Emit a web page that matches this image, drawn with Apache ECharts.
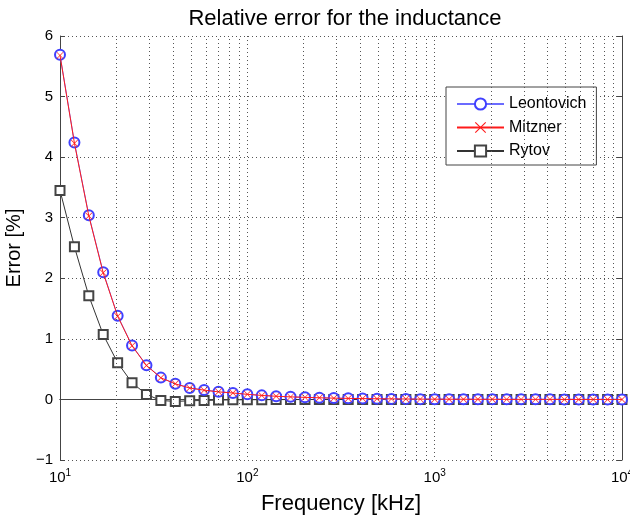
<!DOCTYPE html>
<html>
<head>
<meta charset="utf-8">
<script src="https://cdn.jsdelivr.net/npm/echarts@6/dist/echarts.min.js"></script>
<style>
  html, body { margin: 0; padding: 0; background: #fff; }
  #chart { width: 630px; height: 516px; }
</style>
</head>
<body>
<div id="chart"></div>
<script>
// frequencies [kHz], 13 points per decade
const freq = [10, 11.94, 14.25, 17.01, 20.31, 24.24, 28.94, 34.55, 41.25, 49.24,
  58.78, 70.17, 83.77, 100, 119.4, 142.5, 170.1, 203.1, 242.4, 289.4,
  345.5, 412.5, 492.4, 587.8, 701.7, 837.7, 1000, 1194, 1425, 1701,
  2031, 2424, 2894, 3455, 4125, 4924, 5878, 7017, 8377, 10000]

const leontovich = [5.69, 4.24, 3.04, 2.10, 1.38, 0.89, 0.565, 0.36, 0.26, 0.19,
  0.155, 0.127, 0.108, 0.085, 0.067, 0.053, 0.043, 0.035, 0.028, 0.022,
  0.018, 0.014, 0.011, 0.009, 0.007, 0.005, 0.004, 0.003, 0.003, 0.002,
  0.002, 0.001, 0.001, 0.001, 0.001, 0, 0, 0, 0, 0]

const mitzner = [5.68, 4.23, 3.03, 2.09, 1.375, 0.885, 0.56, 0.357, 0.257, 0.188,
  0.153, 0.125, 0.106, 0.084, 0.066, 0.052, 0.042, 0.034, 0.027, 0.021,
  0.017, 0.014, 0.011, 0.009, 0.007, 0.005, 0.004, 0.003, 0.003, 0.002,
  0.002, 0.001, 0.001, 0.001, 0.001, 0, 0, 0, 0, 0]

const rytov = [3.45, 2.52, 1.71, 1.07, 0.605, 0.275, 0.083, -0.017, -0.033, -0.022,
  -0.017, -0.011, -0.007, -0.005, -0.004, -0.003, -0.002, -0.002, -0.001, -0.001,
  -0.001, 0, 0, 0, 0, 0, 0, 0, 0, 0,
  0, 0, 0, 0, 0, 0, 0, 0, 0, 0]

const decades = [10, 100, 1000]

const axisColor = '#444'
const gridDots = { type: [1, 3], color: '#555', width: 1 }
const font = 'Liberation Sans, Arial, sans-serif'

// minor grid lines at 2..9 of each decade
const minorLines = []
decades.forEach((d) => {
  for (let m = 2; m <= 9; m++) minorLines.push({ xAxis: d * m })
})

const pairs = (ys) => freq.map((f, i) => [f, ys[i]])

const xSym = 'path://M0,0.7L0.7,0L5,4.3L9.3,0L10,0.7L5.7,5L10,9.3L9.3,10L5,5.7L0.7,10L0,9.3L4.3,5Z'

const chart = echarts.init(document.getElementById('chart'))

chart.setOption({
  animation: false,
  textStyle: { fontFamily: font },
  title: {
    text: 'Relative error for the inductance',
    left: 340,
    textAlign: 'center',
    top: 3,
    textStyle: { fontSize: 22, fontWeight: 'normal', color: '#000', fontFamily: font }
  },
  legend: {
    orient: 'vertical',
    left: 446,
    top: 87,
    padding: [9, 10, 6, 10],
    itemWidth: 47,
    itemHeight: 14,
    itemGap: 7.5,
    backgroundColor: '#fff',
    borderColor: axisColor,
    borderWidth: 1,
    borderRadius: 0,
    textStyle: { fontSize: 16, color: '#000', fontFamily: font },
    data: ['Leontovich', 'Mitzner', 'Rytov']
  },
  grid: { left: 60, right: 8, top: 36, bottom: 56, outerBoundsMode: 'none' },
  xAxis: [
    {
      type: 'log',
      logBase: 10,
      min: 10,
      max: 10000,
      splitNumber: 3,
      name: 'Frequency [kHz]',
      nameLocation: 'middle',
      nameGap: 33,
      nameTextStyle: { fontSize: 22, color: '#000', fontFamily: font },
      axisLine: { show: true, lineStyle: { color: axisColor } },
      axisTick: { inside: true, length: 5, lineStyle: { color: axisColor } },
      splitLine: { show: true, lineStyle: gridDots },
      minorTick: { show: false },
      axisLabel: {
        margin: 8,
        color: '#000',
        formatter: (v) => '{b|10}{s|' + Math.round(Math.log10(v)) + '}',
        rich: {
          b: { fontSize: 15, color: '#000', fontFamily: font },
          s: { fontSize: 10, color: '#000', fontFamily: font, padding: [0, 0, 9, 0] }
        }
      }
    },
    {
      type: 'log',
      logBase: 10,
      min: 10,
      max: 10000,
      splitNumber: 3,
      position: 'top',
      axisLine: { show: true, lineStyle: { color: axisColor } },
      axisTick: { inside: true, length: 5, lineStyle: { color: axisColor } },
      axisLabel: { show: false },
      splitLine: { show: false }
    }
  ],
  yAxis: [
    {
      type: 'value',
      min: -1,
      max: 6,
      interval: 1,
      name: 'Error [%]',
      nameLocation: 'middle',
      nameGap: 36,
      nameTextStyle: { fontSize: 20, color: '#000', fontFamily: font },
      axisLine: { show: true, lineStyle: { color: axisColor } },
      axisTick: { inside: true, length: 5, lineStyle: { color: axisColor } },
      splitLine: { show: true, lineStyle: gridDots },
      axisLabel: {
        margin: 7,
        fontSize: 15,
        color: '#000',
        formatter: (v) => (v < 0 ? '\u2212' + -v : String(v))
      }
    },
    {
      type: 'value',
      min: -1,
      max: 6,
      interval: 1,
      position: 'right',
      axisLine: { show: true, lineStyle: { color: axisColor } },
      axisTick: { inside: true, length: 5, lineStyle: { color: axisColor } },
      axisLabel: { show: false },
      splitLine: { show: false }
    }
  ],
  series: [
    {
      name: 'Leontovich',
      type: 'line',
      data: pairs(leontovich),
      symbol: 'emptyCircle',
      symbolSize: 10,
      color: '#3333ff',
      lineStyle: { width: 1, color: '#6b6bff' },
      itemStyle: { color: '#4040ff', borderWidth: 1 },
      markLine: {
        silent: true,
        symbol: 'none',
        label: { show: false },
        lineStyle: gridDots,
        data: minorLines
      },
      z: 3
    },
    {
      name: 'Mitzner',
      type: 'line',
      data: pairs(mitzner),
      symbol: xSym,
      symbolSize: 7,
      color: '#ff1a1a',
      lineStyle: { width: 1, color: '#ff1a1a' },
      itemStyle: { color: '#ff1a1a' },
      z: 4
    },
    {
      name: 'Rytov',
      type: 'line',
      data: pairs(rytov),
      symbol: 'emptyRect',
      symbolSize: 9,
      color: '#333',
      lineStyle: { width: 1, color: '#333' },
      itemStyle: { color: '#444', borderWidth: 1 },
      z: 2
    }
  ]
})
</script>
</body>
</html>
